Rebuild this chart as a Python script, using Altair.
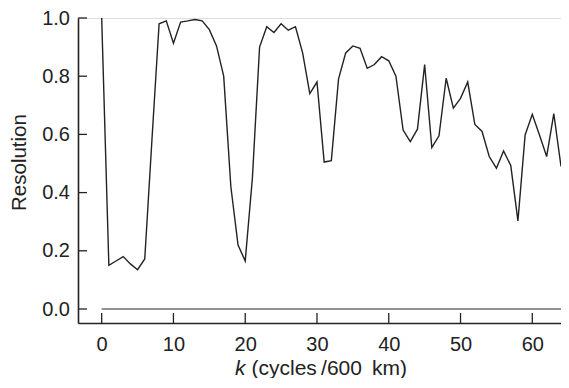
import altair as alt
import pandas as pd

k_values = list(range(0, 65))
resolution = [1.0, 0.15, 0.165, 0.18, 0.155, 0.135, 0.172, 0.58, 0.98, 0.99,
              0.913, 0.986, 0.99, 0.995, 0.99, 0.96, 0.904, 0.80, 0.42, 0.22,
              0.165, 0.45, 0.90, 0.97, 0.95, 0.98, 0.958, 0.97, 0.88, 0.74,
              0.78, 0.505, 0.51, 0.79, 0.88, 0.904, 0.896, 0.827, 0.84, 0.867,
              0.853, 0.80, 0.615, 0.575, 0.618, 0.84, 0.555, 0.595, 0.793, 0.69,
              0.724, 0.78, 0.634, 0.61, 0.524, 0.484, 0.543, 0.493, 0.303, 0.598,
              0.669, 0.598, 0.524, 0.671, 0.49]
x_ticks = [0, 10, 20, 30, 40, 50, 60]
y_ticks = [0.0, 0.2, 0.4, 0.6, 0.8, 1.0]
zero_line = {"x0": [0], "x1": [64], "y": [0.0]}

FONT = "Liberation Sans"
INK = "#222222"

df = pd.DataFrame({"k": k_values, "res": resolution})

xscale = alt.Scale(domain=[-3.3, 64], nice=False, zero=False)
yscale = alt.Scale(domain=[-0.0481, 1.0], nice=False, zero=False)

line = alt.Chart(df).mark_line(color=INK, strokeWidth=1.4).encode(
    x=alt.X("k:Q", scale=xscale,
            axis=alt.Axis(values=x_ticks, title=None, ticks=False, grid=False,
                          labelPadding=11, labelFontSize=20, labelFont=FONT,
                          labelColor=INK, domainColor=INK, domainWidth=1.6,
                          format="d")),
    y=alt.Y("res:Q", scale=yscale,
            axis=alt.Axis(values=y_ticks, format=".1f", ticks=False, grid=False,
                          labelPadding=8.5, labelFontSize=20, labelFont=FONT,
                          labelColor=INK, domainColor=INK, domainWidth=1.6,
                          title="Resolution", titleFont=FONT, titleFontSize=20.5,
                          titleFontWeight="normal", titleColor=INK,
                          titleAngle=-90, titleX=-53, titleY=144,
                          titleBaseline="alphabetic", titleAlign="center")),
)

zero = alt.Chart(pd.DataFrame(zero_line)).mark_rule(color=INK, strokeWidth=1.1).encode(
    x="x0:Q", x2="x1:Q", y="y:Q"
)

ytick_rules = alt.Chart(pd.DataFrame({"t": y_ticks})).mark_rule(color=INK, strokeWidth=1.3).encode(
    y="t:Q", x=alt.value(0), x2=alt.value(9)
)

xtick_rules = alt.Chart(pd.DataFrame({"t": x_ticks})).mark_rule(color=INK, strokeWidth=1.3).encode(
    x="t:Q", y=alt.value(305), y2=alt.value(295)
)

one = pd.DataFrame({"a": [0]})
title_k = alt.Chart(one).mark_text(
    text="k", fontStyle="italic", align="left", baseline="alphabetic",
    fontSize=21, font=FONT, color=INK
).encode(x=alt.value(157), y=alt.value(356.5))
title_rest = alt.Chart(one).mark_text(
    text="(cycles\u2009/600 \u2009km)", align="left", baseline="alphabetic",
    fontSize=21, font=FONT, color=INK
).encode(x=alt.value(173.5), y=alt.value(356.5))

chart = alt.layer(zero, ytick_rules, xtick_rules, line, title_k, title_rest).properties(
    width=483, height=305,
    autosize=alt.AutoSizeParams(type="none"),
    padding={"left": 70, "top": 10, "right": 0, "bottom": 55},
).configure_view(stroke=None).configure(background="white")

chart.save("out.html", embed_options={"renderer": "svg", "actions": False})
